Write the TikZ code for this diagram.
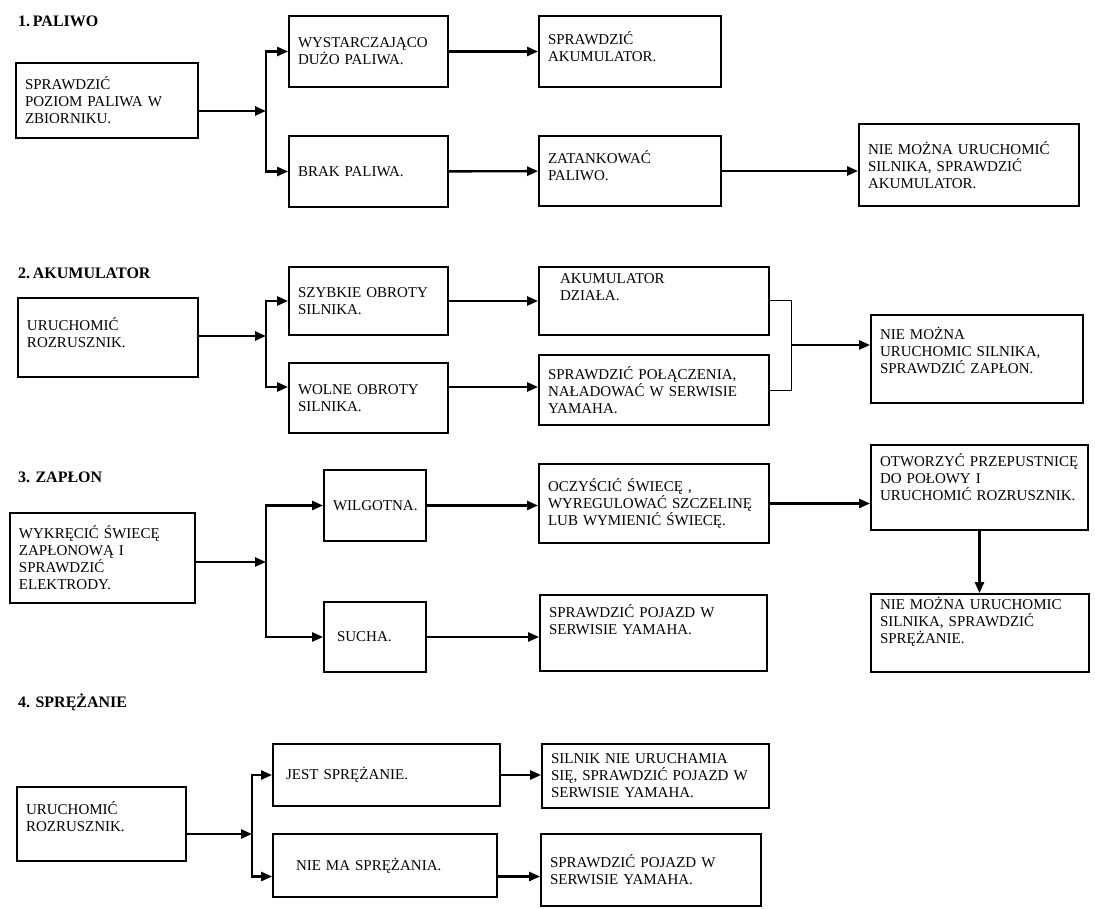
\documentclass[tikz,border=0pt]{standalone}
\usepackage{fontspec}
\setmainfont{Liberation Serif}
\usepackage{tikz}
\usetikzlibrary{arrows.meta,positioning,calc}

\begin{document}
\begin{tikzpicture}[x=1pt,y=-1pt,>={Triangle[length=11pt,width=9pt]},
  box/.style={draw,line width=1.8pt,align=left,inner xsep=9pt,inner ysep=3pt,
    font=\fontsize{15}{17}\selectfont},
  lift/.style={text depth=#1},
  ttl/.style={anchor=base west,inner sep=0pt,font=\fontsize{16}{18}\selectfont\bfseries},
  arr/.style={->,line width=2.4pt},
  jn/.style={line width=1pt}]
\useasboundingbox (0,0) rectangle (1095,909);

% 1. paliwo
\node[ttl] (t1) at (18,27) {1.\,PALIWO};
\node[box,text width=164pt,minimum height=75pt] (p1) at (107,100.5) {SPRAWDZIĆ\\POZIOM PALIWA W\\ZBIORNIKU.};
\node[box,text width=141pt,minimum height=71pt] (p2) at (368.5,51.5) {WYSTARCZAJĄCO\\DUŻO PALIWA.};
\node[box,text width=141pt,minimum height=71pt] (p3) at (368.5,171.5) {BRAK PALIWA.};
\node[box,text width=164pt,minimum height=71pt,lift=27pt] (p4) at (630,51.5) {SPRAWDZIĆ\\AKUMULATOR.};
\node[box,text width=164pt,minimum height=70pt,lift=27pt] (p5) at (630,171) {ZATANKOWAĆ\\PALIWO.};
\node[box,text width=202pt,minimum height=82pt] (p6) at (969,165) {NIE MOŻNA URUCHOMIĆ\\SILNIKA, SPRAWDZIĆ\\AKUMULATOR.};
\coordinate (j1) at (266,111);
\draw[arr] (p1.east |- j1) -- (j1);
\draw[arr] (j1) |- (p2.west);
\draw[arr] (j1) |- (p3.west);
\draw[arr] (p2) -- (p4);
\draw[arr] (p3) -- (p5);
\draw[arr] (p5.east) -- (p5.east -| p6.west);

% 2. akumulator
\node[ttl] (t2) at (18,279) {2.\,AKUMULATOR};
\node[box,text width=162pt,minimum height=79pt,lift=26pt] (a1) at (108,337.5) {URUCHOMIĆ\\ROZRUSZNIK.};
\node[box,text width=141pt,minimum height=68pt] (a2) at (368.5,301) {SZYBKIE OBROTY\\SILNIKA.};
\node[box,text width=141pt,minimum height=70pt] (a3) at (368.5,398) {WOLNE OBROTY\\SILNIKA.};
\node[box,text width=212pt,minimum height=68pt,lift=44pt] (a4) at (654,301) {\hspace{12pt}AKUMULATOR\\\hspace{12pt}DZIAŁA.};
\node[box,text width=212pt,minimum height=70pt] (a5) at (654,390) {SPRAWDZIĆ POŁĄCZENIA,\\NAŁADOWAĆ W SERWISIE\\YAMAHA.};
\node[box,text width=194pt,minimum height=88pt,lift=51pt] (a6) at (977,359) {NIE MOŻNA\\URUCHOMIC SILNIKA,\\SPRAWDZIĆ ZAPŁON.};
\coordinate (j2) at (266,336);
\coordinate (m2) at (791,345);
\draw[arr] (a1.east |- j2) -- (j2);
\draw[arr] (j2) |- (a2.west);
\draw[arr] (j2) |- ([yshift=11pt]a3.west);
\draw[arr] (a2) -- (a4);
\draw[arr] ([yshift=11pt]a3.east) -- ([yshift=11pt]a3.east -| a5.west);
\draw[jn] (a4.east) -| (m2);
\draw[jn] (a5.east) -| (m2);
\draw[arr] (m2) -- (m2 -| a6.west);

% 3. zaplon
\node[ttl] (t3) at (18,482) {3. ZAPŁON};
\node[box,text width=167pt,minimum height=90pt] (z1) at (102.5,558) {WYKRĘCIĆ ŚWIECĘ\\ZAPŁONOWĄ I\\SPRAWDZIĆ\\ELEKTRODY.};
\node[box,text width=84pt,minimum height=71pt] (z2) at (375,505.5) {WILGOTNA.};
\node[box,text width=84pt,minimum height=70pt] (z3) at (375,637) {\hspace{4pt}SUCHA.};
\node[box,text width=212pt,minimum height=79pt] (z4) at (654,503.5) {OCZYŚCIĆ ŚWIECĘ ,\\WYREGULOWAĆ SZCZELINĘ\\LUB WYMIENIĆ ŚWIECĘ.};
\node[box,text width=209pt,minimum height=76pt,lift=44pt] (z5) at (653.5,633) {SPRAWDZIĆ POJAZD W\\SERWISIE YAMAHA.};
\node[box,text width=199pt,minimum height=85pt,lift=55pt] (z6) at (979.5,487.5) {OTWORZYĆ PRZEPUSTNICĘ\\DO POŁOWY I\\URUCHOMIĆ ROZRUSZNIK.};
\node[box,text width=200pt,minimum height=78pt,lift=59pt] (z7) at (980,633) {NIE MOŻNA URUCHOMIC\\SILNIKA, SPRAWDZIĆ\\SPRĘŻANIE.};
\coordinate (j3) at (266,562);
\draw[arr] (z1.east |- j3) -- (j3);
\draw[arr] (j3) |- (z2.west);
\draw[arr] (j3) |- (z3.west);
\draw[arr] (z2.east) -- (z2.east -| z4.west);
\draw[arr] (z3.east) -- (z3.east -| z5.west);
\draw[arr] (z4.east) -- (z4.east -| z6.west);
\draw[arr] (z6.south) -- (z6.south |- z7.north);

% 4. sprezanie
\node[ttl] (t4) at (18,707) {4. SPRĘŻANIE};
\node[box,text width=151pt,minimum height=74pt,lift=32pt] (s1) at (101.5,824) {URUCHOMIĆ\\ROZRUSZNIK.};
\node[box,text width=209pt,minimum height=62pt] (s2) at (386.5,775) {\hspace{4pt}JEST SPRĘŻANIE.};
\node[box,text width=206pt,minimum height=63pt] (s3) at (385,865.5) {\hspace{14pt}NIE MA SPRĘŻANIA.};
\node[box,text width=209pt,minimum height=64pt] (s4) at (655.5,776) {SILNIK NIE URUCHAMIA\\SIĘ, SPRAWDZIĆ POJAZD W\\SERWISIE YAMAHA.};
\node[box,text width=202pt,minimum height=72pt] (s5) at (651,870) {SPRAWDZIĆ POJAZD W\\SERWISIE YAMAHA.};
\coordinate (j4) at (252,834);
\draw[arr] (s1.east |- j4) -- (j4);
\draw[arr] (j4) |- (s2.west);
\draw[arr] (j4) |- ([yshift=-11pt]s3.west);
\draw[arr] (s2.east) -- (s2.east -| s4.west);
\draw[arr] ([yshift=-11pt]s3.east) -- ([yshift=-11pt]s3.east -| s5.west);
\end{tikzpicture}
\end{document}
